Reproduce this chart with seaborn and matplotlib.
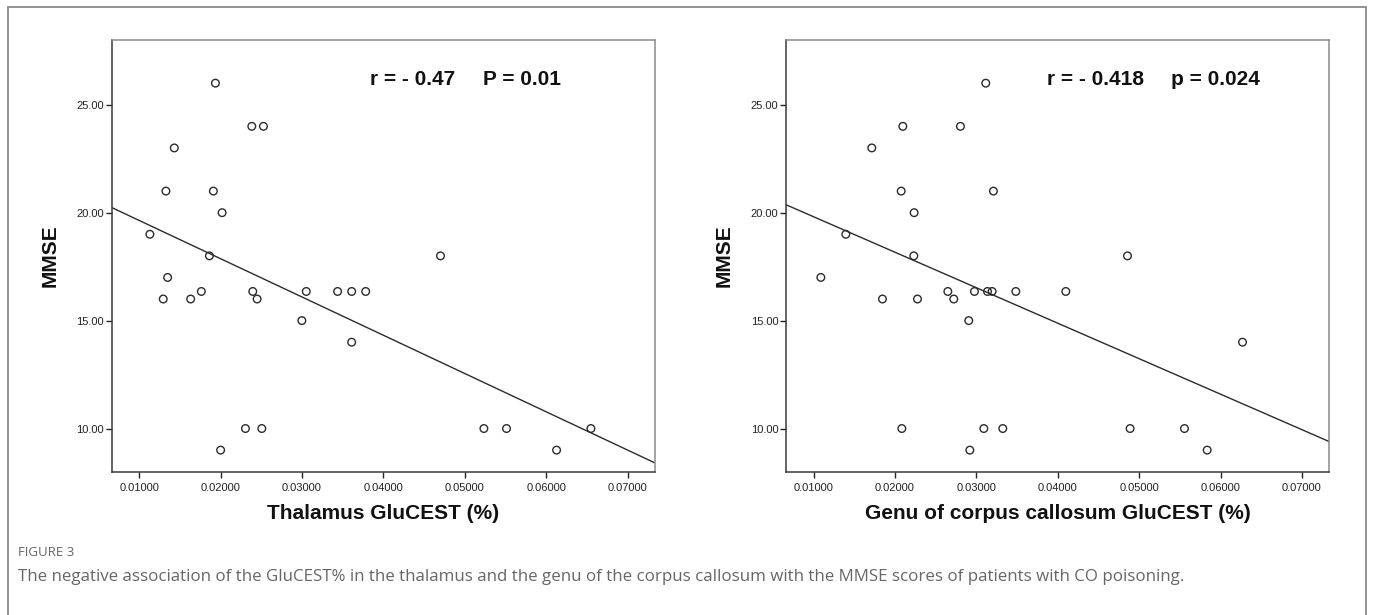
import numpy as np
import pandas as pd
import matplotlib
matplotlib.use("Agg")
import matplotlib.pyplot as plt
import matplotlib.patches as mpatches
import seaborn as sns

# ---------------- data ----------------
thal_x = [0.01936, 0.02383, 0.02526, 0.01431, 0.01328, 0.01911, 0.02018, 0.01131,
          0.01862, 0.01349, 0.01295, 0.01632, 0.01763, 0.02395, 0.02448, 0.03052,
          0.02998, 0.03437, 0.03610, 0.03782, 0.03610, 0.02305, 0.02506, 0.02000,
          0.04701, 0.05234, 0.05512, 0.06127, 0.06549]
thal_y = [26, 24, 24, 23, 21, 21, 20, 19,
          18, 17, 16, 16, 16.35, 16.35, 16, 16.35,
          15, 16.35, 16.35, 16.35, 14, 10, 10, 9,
          18, 10, 10, 9, 10]

genu_x = [0.03116, 0.02097, 0.02805, 0.01716, 0.02077, 0.03210, 0.02236, 0.01397,
          0.02232, 0.01090, 0.01847, 0.02277, 0.02650, 0.02723, 0.02977, 0.03137,
          0.03194, 0.03485, 0.04099, 0.02907, 0.02085, 0.03092, 0.03325, 0.02920,
          0.04857, 0.06270, 0.04889, 0.05557, 0.05836]
genu_y = [26, 24, 24, 23, 21, 21, 20, 19,
          18, 17, 16, 16, 16.35, 16, 16.35, 16.35,
          16.35, 16.35, 16.35, 15, 10, 10, 10, 9,
          18, 14, 10, 10, 9]

x_ticks = [0.01, 0.02, 0.03, 0.04, 0.05, 0.06, 0.07]
x_tick_labels = ["0.01000", "0.02000", "0.03000", "0.04000", "0.05000", "0.06000", "0.07000"]
y_ticks = [10, 15, 20, 25]
y_tick_labels = ["10.00", "15.00", "20.00", "25.00"]

panel_xlabels = ["Thalamus GluCEST (%)", "Genu of corpus callosum GluCEST (%)"]
panel_r = ["r = - 0.47", "r = - 0.418"]
panel_p = ["P = 0.01", "p = 0.024"]
ylabel = "MMSE"
fig_label = "FIGURE 3"
caption = ("The negative association of the GluCEST% in the thalamus and the genu of the "
           "corpus callosum with the MMSE scores of patients with CO poisoning.")

# ---------------- layout ----------------
sns.set_theme(style="white")
plt.rcParams["font.family"] = ["Liberation Sans", "DejaVu Sans"]

W, H = 1375, 615
fig = plt.figure(figsize=(W / 100, H / 100), dpi=100)
fig.patch.set_facecolor("white")

# outer frame (open at the bottom)
frame = mpatches.Rectangle((8 / W, -0.05), (1366 - 8) / W, 1 - 7 / H + 0.05,
                           transform=fig.transFigure, fill=False,
                           edgecolor="#8a8a8a", linewidth=1.3, clip_on=False)
fig.patches.append(frame)

ax_pos = [(111.7, 655.0), (786.0, 1329.3)]
top_px, bot_px = 40.0, 471.7
xlim = (0.00662, 0.07336)
ylim = (8.0, 28.0)

data = [(thal_x, thal_y), (genu_x, genu_y)]
r_xpos = [0.03838, 0.03867]
p_xpos = [0.05225, 0.05394]
text_y = 26.16

for i, ((x0, x1), (xs, ys)) in enumerate(zip(ax_pos, data)):
    ax = fig.add_axes([x0 / W, 1 - bot_px / H, (x1 - x0) / W, (bot_px - top_px) / H])
    ax.set_facecolor("white")
    ax.set_xlim(*xlim)
    ax.set_ylim(*ylim)
    df = pd.DataFrame({"x": xs, "y": ys})
    sns.regplot(data=df, x="x", y="y", ax=ax, ci=None, truncate=False,
                marker="o",
                scatter_kws=dict(s=30, facecolors="none", edgecolors="#2b2b2b",
                                 linewidths=1.0, alpha=1, zorder=3),
                line_kws=dict(color="#2b2b2b", linewidth=1.0, zorder=2))
    ax.set_xlim(*xlim)
    ax.set_ylim(*ylim)

    ax.set_xticks(x_ticks)
    ax.set_xticklabels(x_tick_labels)
    ax.set_yticks(y_ticks)
    ax.set_yticklabels(y_tick_labels)
    ax.tick_params(axis="both", which="major", direction="out", length=4,
                   width=1.0, color="#222222", labelsize=8,
                   labelcolor="#222222", bottom=True, left=True, pad=4)
    ax.tick_params(axis="y", pad=1.5)

    for side in ["left", "bottom"]:
        ax.spines[side].set_color("#3a3a3a")
        ax.spines[side].set_linewidth(1.1)
    for side in ["top", "right"]:
        ax.spines[side].set_color("#8a8a8a")
        ax.spines[side].set_linewidth(1.1)

    ax.set_xlabel(panel_xlabels[i], fontsize=15, fontweight="bold",
                  color="#111111", labelpad=8)
    ax.set_ylabel(ylabel, fontsize=15, fontweight="bold", color="#111111",
                  labelpad=12)

    ax.text(r_xpos[i], text_y, panel_r[i], fontsize=15, fontweight="bold",
            color="#111111", va="center", ha="left")
    ax.text(p_xpos[i], text_y, panel_p[i], fontsize=15, fontweight="bold",
            color="#111111", va="center", ha="left")

fig.text(18 / W, 1 - 553 / H, fig_label, fontsize=9.5, color="#666666",
         family=["Open Sans", "DejaVu Sans"], va="center", ha="left")
fig.text(18 / W, 1 - 577 / H, caption, fontsize=12.2, color="#666666",
         family=["Open Sans", "DejaVu Sans"], va="center", ha="left")

fig.savefig("out.png", dpi=100, facecolor="white")
